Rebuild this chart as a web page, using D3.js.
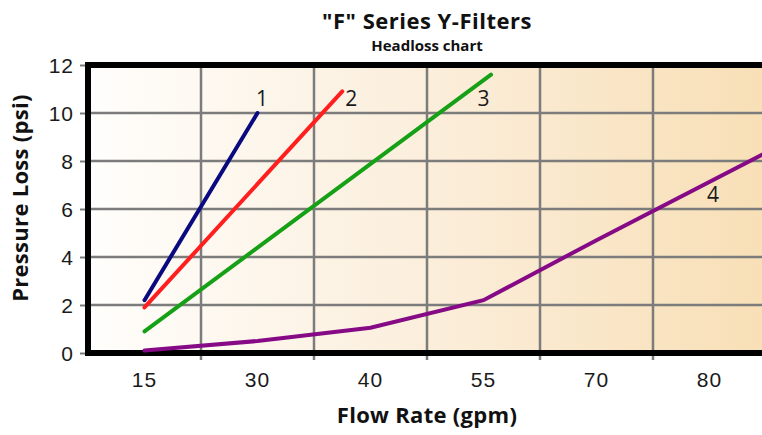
<!DOCTYPE html>
<html>
<head>
<meta charset="utf-8">
<script src="https://cdn.jsdelivr.net/npm/d3@7"></script>
<style>
  body { margin: 0; background: #fff; }
  svg { display: block; font-family: "Open Sans", Lato, sans-serif; }
</style>
</head>
<body>
<svg id="chart" width="762" height="435"></svg>
<script>
// tick labels on the x axis (flow rate, gpm) - evenly spaced columns
const flowLabels = [15, 30, 40, 55, 70, 80];
const psiTicks = [0, 2, 4, 6, 8, 10, 12];

// filter curves, flow (gpm) vs pressure loss (psi)
const filter1Flow = [15, 30];
const filter1Psi = [2.2, 10];
const filter2Flow = [15, 37.5];
const filter2Psi = [1.9, 10.9];
const filter3Flow = [15, 56];
const filter3Psi = [0.9, 11.6];
const filter4Flow = [15, 30, 40, 55, 70, 85];
const filter4Psi = [0.1, 0.5, 1.05, 2.2, 4.7, 8.35];

const seriesNames = ["1", "2", "3", "4"];
const seriesColors = ["#0a0a80", "#ff1f1f", "#16a016", "#860a86"];

const svg = d3.select("#chart");
const plotLeft = 88, plotTop = 65, plotBottom = 353, plotRight = 766;

const x = d3.scaleBand().domain(flowLabels).range([plotLeft, plotRight]);
const flow = d3.scaleLinear()
  .domain(flowLabels)
  .range(flowLabels.map(d => x(d) + x.bandwidth() / 2));
const y = d3.scaleLinear().domain([0, 12]).range([plotBottom, plotTop]);

// background gradient
const defs = svg.append("defs");
const grad = defs.append("linearGradient").attr("id", "bg");
grad.append("stop").attr("offset", "0%").attr("stop-color", "#fffefc");
grad.append("stop").attr("offset", "50%").attr("stop-color", "#fbeedb");
grad.append("stop").attr("offset", "100%").attr("stop-color", "#f8dfb6");
defs.append("clipPath").attr("id", "clip")
  .append("rect").attr("x", plotLeft).attr("y", plotTop)
  .attr("width", plotRight - plotLeft).attr("height", plotBottom - plotTop);

svg.append("rect")
  .attr("x", plotLeft).attr("y", plotTop)
  .attr("width", plotRight - plotLeft).attr("height", plotBottom - plotTop)
  .attr("fill", "url(#bg)");

// grid
svg.append("g").selectAll("line")
  .data(psiTicks.slice(1, -1))
  .join("line")
  .attr("x1", plotLeft).attr("x2", plotRight)
  .attr("y1", d => y(d)).attr("y2", d => y(d))
  .attr("stroke", "#7c7c7c").attr("stroke-width", 2.5);

svg.append("g").selectAll("line")
  .data(flowLabels.slice(1))
  .join("line")
  .attr("x1", d => x(d)).attr("x2", d => x(d))
  .attr("y1", plotTop).attr("y2", plotBottom + 7)
  .attr("stroke", "#7c7c7c").attr("stroke-width", 2.5);

// y axis
const yAxis = svg.append("g")
  .attr("transform", `translate(${plotLeft},0)`)
  .call(d3.axisLeft(y).tickValues(psiTicks).tickSize(8).tickPadding(6));
yAxis.select(".domain").remove();
yAxis.selectAll(".tick line").attr("stroke", "#7c7c7c").attr("stroke-width", 2);
yAxis.selectAll("text").attr("font-size", 21).attr("letter-spacing", 1).attr("fill", "#1a1a1a").attr("dy", "0.35em");

// x axis labels
const xAxis = svg.append("g")
  .attr("transform", `translate(0,${plotBottom})`)
  .call(d3.axisBottom(x).tickSize(0).tickPadding(19));
xAxis.select(".domain").remove();
xAxis.selectAll("text").attr("font-size", 21).attr("letter-spacing", 1).attr("fill", "#1a1a1a");

// frame
svg.append("line").attr("x1", plotLeft - 3).attr("x2", plotRight).attr("y1", plotTop).attr("y2", plotTop)
  .attr("stroke", "#000").attr("stroke-width", 6);
svg.append("line").attr("x1", plotLeft - 3).attr("x2", plotRight).attr("y1", plotBottom).attr("y2", plotBottom)
  .attr("stroke", "#000").attr("stroke-width", 6);
svg.append("line").attr("x1", plotLeft).attr("x2", plotLeft).attr("y1", plotTop).attr("y2", plotBottom)
  .attr("stroke", "#000").attr("stroke-width", 6);

// curves
const series = [
  [filter1Flow, filter1Psi],
  [filter2Flow, filter2Psi],
  [filter3Flow, filter3Psi],
  [filter4Flow, filter4Psi]
];
const line = d3.line().x(d => flow(d[0])).y(d => y(d[1]));
svg.append("g").attr("clip-path", "url(#clip)")
  .selectAll("path")
  .data(series)
  .join("path")
  .attr("d", s => line(d3.zip(s[0], s[1])))
  .attr("fill", "none")
  .attr("stroke", (s, i) => seriesColors[i])
  .attr("stroke-width", 4)
  .attr("stroke-linecap", "round");

// curve numbers
const labelFlow = [30.4, 38.3, 55, 80.3];
const labelPsi = [10.6, 10.6, 10.6, 6.6];
svg.append("g").selectAll("text")
  .data(seriesNames)
  .join("text")
  .attr("x", (d, i) => flow(labelFlow[i]))
  .attr("y", (d, i) => y(labelPsi[i]))
  .attr("dy", "0.35em")
  .attr("text-anchor", "middle")
  .attr("font-size", 21)
  .attr("fill", "#1a1a1a")
  .text(d => d);

// titles
svg.append("text").attr("x", 427).attr("y", 29).attr("text-anchor", "middle")
  .attr("font-size", 22).attr("font-weight", "bold").attr("letter-spacing", 0.5).attr("fill", "#111")
  .text('"F" Series Y-Filters');
svg.append("text").attr("x", 427).attr("y", 51).attr("text-anchor", "middle")
  .attr("font-size", 15).attr("font-weight", "bold").attr("fill", "#111")
  .text("Headloss chart");
svg.append("text").attr("x", 427).attr("y", 423).attr("text-anchor", "middle")
  .attr("font-size", 22).attr("font-weight", "bold").attr("letter-spacing", 0.3).attr("fill", "#111")
  .text("Flow Rate (gpm)");
svg.append("text")
  .attr("transform", "translate(28,198) rotate(-90)")
  .attr("text-anchor", "middle")
  .attr("font-size", 22).attr("font-weight", "bold").attr("letter-spacing", 0.3).attr("fill", "#111")
  .text("Pressure Loss (psi)");
</script>
</body>
</html>
